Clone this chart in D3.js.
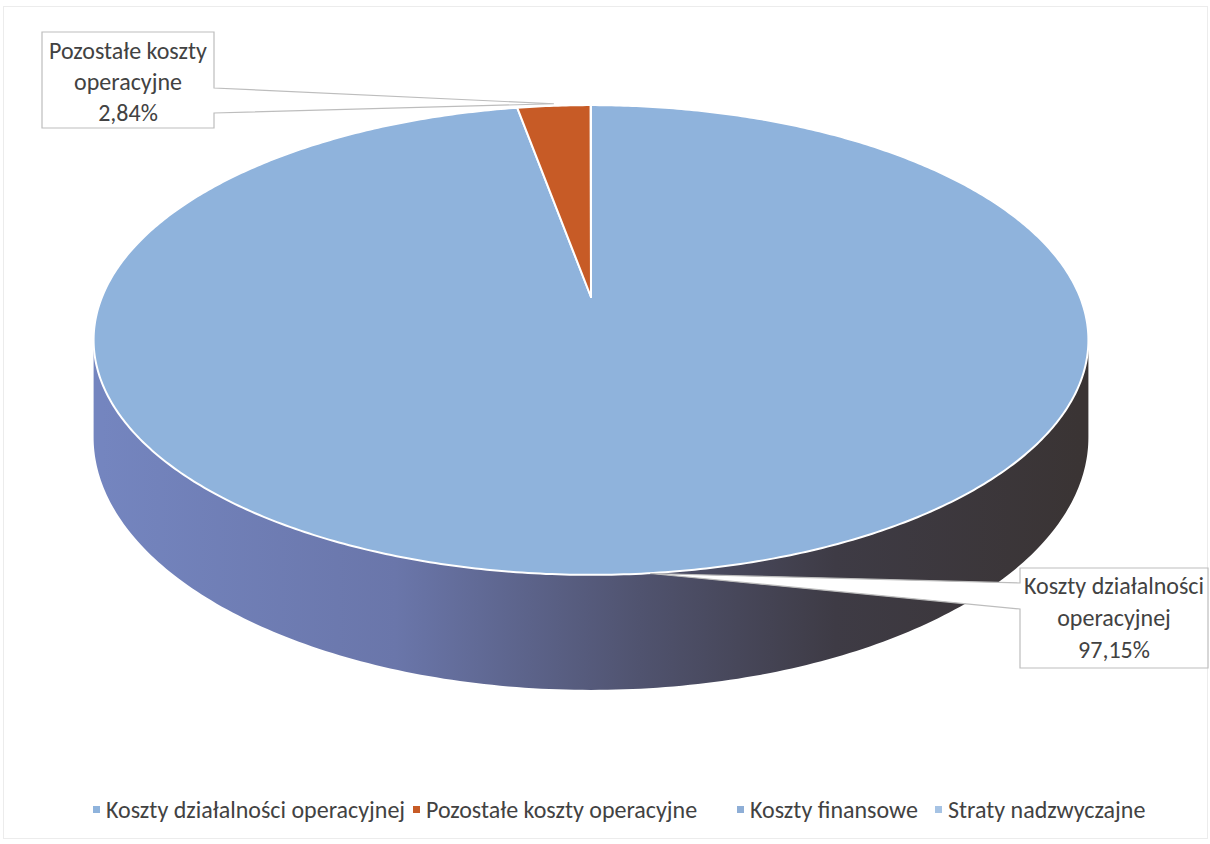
<!DOCTYPE html>
<html>
<head>
<meta charset="utf-8">
<script src="https://cdn.jsdelivr.net/npm/d3@7"></script>
<style>
  html, body { margin: 0; padding: 0; background: #ffffff; }
  svg { display: block; }
  text { font-family: Carlito, Lato, "Open Sans", sans-serif; fill: #424242; }
</style>
</head>
<body>
<svg id="chart" width="1210" height="844"></svg>
<script>
// ---- data ----
const categories = ["Koszty działalności operacyjnej", "Pozostałe koszty operacyjne", "Koszty finansowe", "Straty nadzwyczajne"];
const values = [97.15, 2.84, 0.01, 0];
const labelTexts = ["97,15%", "2,84%"];
const colors = ["#8fb3dc", "#c75b26", "#8eaed6", "#a6c3e4"];

// ---- geometry ----
const W = 1210, H = 844;
const cx = 591, cy = 297;     // projected pie centre
const a = 489, b = 227;       // radii
const k = 0.183;              // perspective factor
const D = 94;                 // depth

const svg = d3.select("#chart");

function proj(theta, depth) {
  const u = Math.sin(theta), v = Math.cos(theta);
  const s = 1 / (1 + k * v);
  return [cx + a * u * s, cy + (-b * v + depth) * s];
}

// faint chart border
svg.append("rect").attr("x", 3.5).attr("y", 6.5).attr("width", W - 6).attr("height", H - 12)
  .attr("fill", "none").attr("stroke", "#ececec").attr("stroke-width", 1);

const pie = d3.pie().sort(null).value(d => d)(values);

// side gradient
const defs = svg.append("defs");
const grad = defs.append("linearGradient").attr("id", "sideGrad")
  .attr("gradientUnits", "userSpaceOnUse")
  .attr("x1", cx - a).attr("y1", 0).attr("x2", cx + a).attr("y2", 0);
[[0, "#7485bf"], [0.3, "#6a76aa"], [0.55, "#50536f"], [0.75, "#3e3b45"], [1, "#3a3434"]]
  .forEach(([o, c]) => grad.append("stop").attr("offset", o).attr("stop-color", c));

const thetaRight = Math.acos(-k);              // rightmost rim point
const thetaLeft = 2 * Math.PI - Math.acos(-k); // leftmost rim point

// front side (belongs to the first slice which covers the whole front)
const N = 200;
const sidePts = [];
for (let i = 0; i <= N; i++) {
  const t = thetaRight + (thetaLeft - thetaRight) * i / N;
  sidePts.push(proj(t, 0));
}
for (let i = N; i >= 0; i--) {
  const t = thetaRight + (thetaLeft - thetaRight) * i / N;
  sidePts.push(proj(t, D));
}
svg.append("path").attr("d", d3.line()(sidePts) + "Z").attr("fill", "url(#sideGrad)");

// top slices
const topG = svg.append("g");
pie.forEach((p, i) => {
  if (p.endAngle - p.startAngle <= 0) return;
  const pts = [[cx, cy]];
  const n = Math.max(2, Math.ceil((p.endAngle - p.startAngle) / 0.01));
  for (let j = 0; j <= n; j++) {
    pts.push(proj(p.startAngle + (p.endAngle - p.startAngle) * j / n, 0));
  }
  topG.append("path").attr("d", d3.line()(pts) + "Z")
    .attr("fill", colors[i]).attr("stroke", "#ffffff").attr("stroke-width", 2)
    .attr("stroke-linejoin", "round");
});

// callouts
function callout(box, tip, wedgeSide, wy1, wy2, lines, lineY) {
  const [x0, y0, x1, y1] = box;
  let d;
  if (wedgeSide === "right") {
    d = `M${x0},${y0}L${x1},${y0}L${x1},${wy1}L${tip[0]},${tip[1]}L${x1},${wy2}L${x1},${y1}L${x0},${y1}Z`;
  } else {
    d = `M${x0},${y0}L${x1},${y0}L${x1},${y1}L${x0},${y1}L${x0},${wy2}L${tip[0]},${tip[1]}L${x0},${wy1}Z`;
  }
  svg.append("path").attr("d", d).attr("fill", "#ffffff").attr("stroke", "#bdbdbd").attr("stroke-width", 1.2);
  const mx = (x0 + x1) / 2;
  lines.forEach((t, j) => {
    svg.append("text").attr("x", mx).attr("y", lineY[j]).attr("text-anchor", "middle")
      .attr("font-size", 24).text(t);
  });
}

// label for slice 2 (Pozostałe koszty operacyjne) pointing at its top edge
const p1 = pie[1];
const tip1 = proj((p1.startAngle + p1.endAngle) / 2, 0);
callout([42, 32, 214, 128], [tip1[0], tip1[1] - 2], "right", 88, 113,
  ["Pozostałe koszty", "operacyjne", labelTexts[1]], [59, 90, 121]);

// label for slice 1 pointing at its near rim
const p0 = pie[0];
const tip0 = proj(p0.startAngle + (p0.endAngle - p0.startAngle) * 0.5, 0);
callout([1020, 568, 1208, 668], [tip0[0] + 6, tip0[1]], "left", 583, 609,
  ["Koszty działalności", "operacyjnej", labelTexts[0]], [594, 626, 658]);

// legend
const legendX = [93, 413, 737, 935];
const legG = svg.append("g");
categories.forEach((c, i) => {
  legG.append("rect").attr("x", legendX[i]).attr("y", 806).attr("width", 7).attr("height", 7)
    .attr("fill", colors[i]);
  legG.append("text").attr("x", legendX[i] + 13).attr("y", 818).attr("font-size", 24).text(c);
});
</script>
</body>
</html>
